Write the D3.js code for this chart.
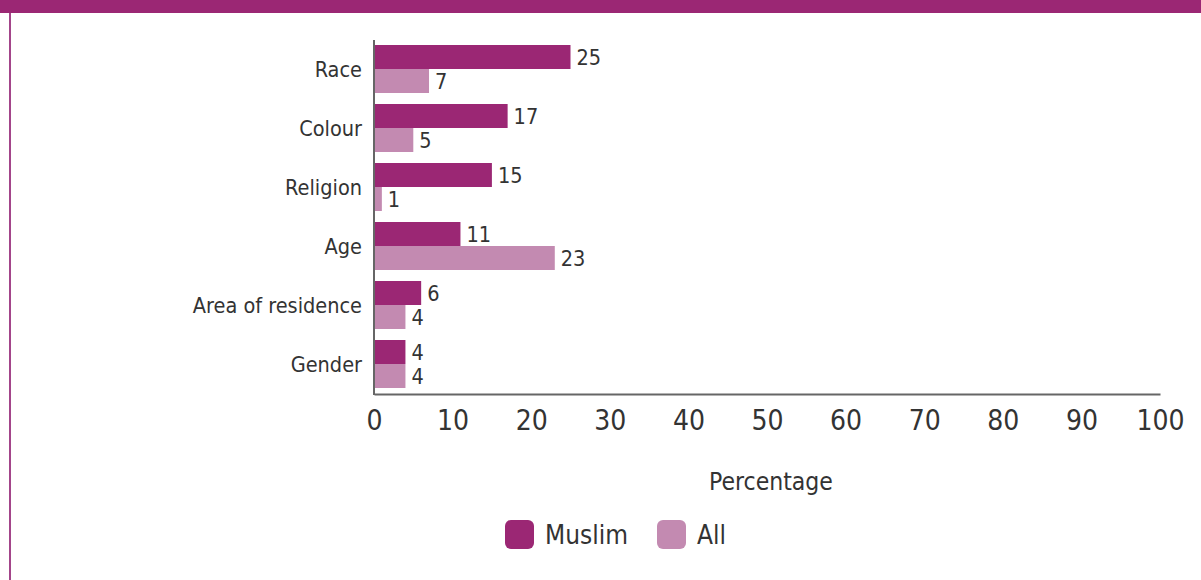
<!DOCTYPE html>
<html>
<head>
<meta charset="utf-8">
<script src="https://cdn.jsdelivr.net/npm/d3@7"></script>
<style>
  html, body { margin: 0; padding: 0; background: #fff; }
  svg text { font-family: "DejaVu Sans Condensed", "Liberation Sans Narrow", sans-serif; fill: #333; }
</style>
</head>
<body>
<svg id="chart" width="1201" height="580"></svg>
<script>
// Categories, top to bottom
const categories = ["Race", "Colour", "Religion", "Age", "Area of residence", "Gender"];
// Percentage values per series
const muslimValues = [25, 17, 15, 11, 6, 4];
const allValues = [7, 5, 1, 23, 4, 4];
const seriesNames = ["Muslim", "All"];
const seriesColors = ["#9b2774", "#c38ab1"];
const xTicks = [0, 10, 20, 30, 40, 50, 60, 70, 80, 90, 100];
const xTitle = "Percentage";

const svg = d3.select("#chart");
const W = 1201, H = 580;

// frame: top band and left rule
svg.append("rect").attr("x", 0).attr("y", 0).attr("width", W).attr("height", 13).attr("fill", "#9b2774");
svg.append("rect").attr("x", 9).attr("y", 13).attr("width", 2).attr("height", H - 13).attr("fill", "#a3458a");

const x = d3.scaleLinear().domain([0, 100]).range([374, 1160]);
const y = d3.scaleBand().domain(categories).range([40, 394]).paddingInner(0).paddingOuter(0);
const inner = d3.scaleBand().domain(seriesNames).range([5, y.bandwidth() - 6]);

const rows = categories.map((c, i) => ({ cat: c, vals: [muslimValues[i], allValues[i]] }));

const g = svg.append("g");
const groups = g.selectAll("g.row").data(rows).join("g")
  .attr("class", "row")
  .attr("transform", d => `translate(0,${y(d.cat)})`);

groups.selectAll("rect").data(d => d.vals.map((v, k) => ({ v, k })))
  .join("rect")
  .attr("x", x(0))
  .attr("y", d => inner(seriesNames[d.k]))
  .attr("width", d => x(d.v) - x(0))
  .attr("height", inner.bandwidth())
  .attr("fill", d => seriesColors[d.k]);

groups.selectAll("text.val").data(d => d.vals.map((v, k) => ({ v, k })))
  .join("text")
  .attr("class", "val")
  .attr("x", d => x(d.v) + 6)
  .attr("y", d => inner(seriesNames[d.k]) + inner.bandwidth() / 2)
  .attr("dy", "0.36em")
  .attr("font-size", 21.5)
  .text(d => d.v);

// category labels
groups.append("text")
  .attr("x", 362)
  .attr("y", inner.bandwidth() + 5)
  .attr("dy", "0.36em")
  .attr("text-anchor", "end")
  .attr("font-size", 21.5)
  .text(d => d.cat);

// axes lines
svg.append("line").attr("x1", x(0)).attr("x2", x(0)).attr("y1", 40).attr("y2", 395)
  .attr("stroke", "#666").attr("stroke-width", 2);
const xAxis = d3.axisBottom(x).tickValues(xTicks).tickSize(0).tickPadding(16).tickFormat(d3.format("d"));
const ax = svg.append("g").attr("transform", "translate(0,394)").call(xAxis);
ax.select(".domain").attr("stroke", "#666").attr("stroke-width", 2);
ax.selectAll("text").attr("font-size", 28).attr("font-family", null).style("fill", "#333");

svg.append("text").attr("x", (x(0) + x(100)) / 2 + 4).attr("y", 481).attr("dy", "0.36em")
  .attr("text-anchor", "middle").attr("font-size", 24.5).text(xTitle);

// legend
const legend = svg.append("g").attr("transform", "translate(505,520)");
const items = legend.selectAll("g").data(seriesNames).join("g")
  .attr("transform", (d, i) => `translate(${i * 152},0)`);
items.append("rect").attr("width", 29).attr("height", 29).attr("rx", 6)
  .attr("fill", (d, i) => seriesColors[i]);
items.append("text").attr("x", 40).attr("y", 15).attr("dy", "0.36em")
  .attr("font-size", 26).text(d => d);
</script>
</body>
</html>
